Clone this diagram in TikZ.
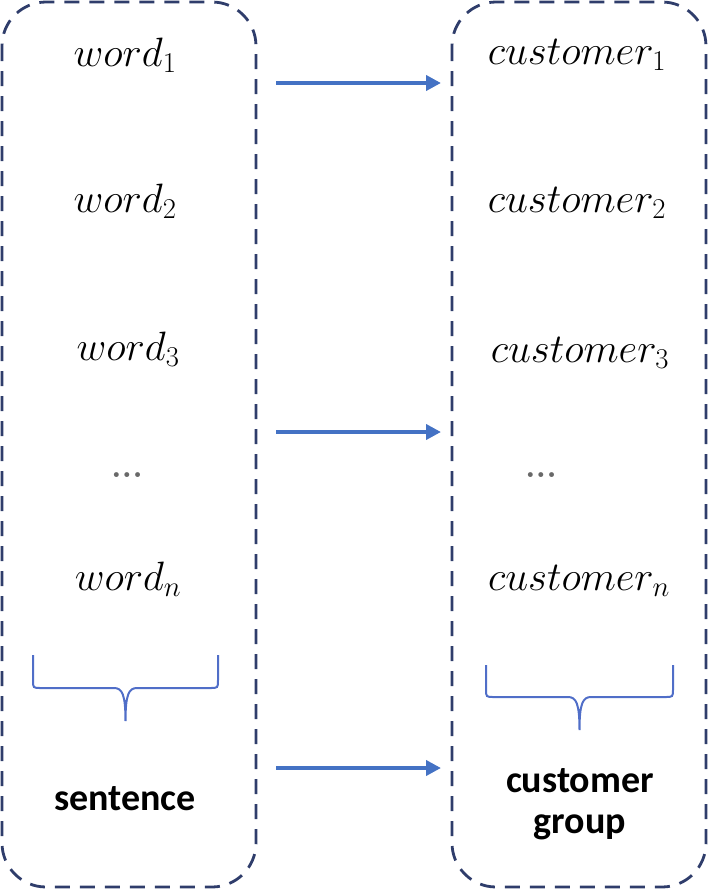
\RequirePackage{fix-cm}
\documentclass[tikz,border=0pt]{standalone}
\usepackage{fontspec}
\newfontfamily\calib{Carlito}
\usetikzlibrary{arrows.meta}
\definecolor{boxc}{RGB}{47,61,107}
\definecolor{arrc}{RGB}{68,114,196}
\definecolor{brc}{RGB}{80,110,200}
\definecolor{dotc}{RGB}{105,105,105}
\begin{document}
\begin{tikzpicture}[x=1pt,y=-1pt,
  grp/.style={draw=boxc,line width=2.8pt,dash pattern=on 15pt off 10pt,rounded corners=44pt},
  mword/.style={anchor=base,inner sep=0pt,font=\fontsize{41}{48}\selectfont},
  dots/.style={anchor=base,inner sep=0pt,text=dotc,font=\bfseries\fontsize{34}{38}\selectfont},
  lbl/.style={anchor=base,inner sep=0pt,font=\calib\bfseries\fontsize{38}{42}\selectfont},
  flow/.style={draw=arrc,line width=4pt,-{Triangle[length=15pt,width=15pt]}},
  brace/.style={draw=brc,line width=2pt}]
\useasboundingbox (0,0) rectangle (708,889);
\draw[grp] (2,2) rectangle (256,887);
\draw[grp] (452,2) rectangle (706,887);
% words
\node[mword] (w1) at (125,66) {$word_1$};
\node[mword] (w2) at (125,212) {$word_2$};
\node[mword] (w3) at (128,360) {$word_3$};
\node[dots] (wd) at (127,477) {...};
\node[mword] (wn) at (128,590) {$word_n$};
% customers
\node[mword] (c1) at (577,64) {$customer_1$};
\node[mword] (c2) at (577,212) {$customer_2$};
\node[mword] (c3) at (580,362) {$customer_3$};
\node[dots] (cd) at (541,477) {...};
\node[mword] (cn) at (579,590) {$customer_n$};
% labels
\node[lbl] (sent) at (125,810) {sentence};
\node[lbl] (cg1) at (580,792) {customer};
\node[lbl] (cg2) at (580,833) {group};
% braces
\draw[brace] (33,655) -- (33,680) .. controls (33,688) .. (41,688) -- (114,688)
  .. controls (122,688) and (125.5,694) .. (125.5,721)
  .. controls (125.5,694) and (129,688) .. (137,688) -- (210,688)
  .. controls (218,688) .. (218,680) -- (218,655);
\draw[brace] (486,665) -- (486,689) .. controls (486,697) .. (494,697) -- (568,697)
  .. controls (576,697) and (579.5,703) .. (579.5,730)
  .. controls (579.5,703) and (583,697) .. (591,697) -- (665,697)
  .. controls (673,697) .. (673,689) -- (673,665);
% arrows
\coordinate (a1s) at (276,83); \coordinate (a1e) at (441,83);
\coordinate (a2s) at (276,432); \coordinate (a2e) at (441,432);
\coordinate (a3s) at (276,768); \coordinate (a3e) at (441,768);
\draw[flow] (a1s) -- (a1e);
\draw[flow] (a2s) -- (a2e);
\draw[flow] (a3s) -- (a3e);
\end{tikzpicture}
\end{document}
